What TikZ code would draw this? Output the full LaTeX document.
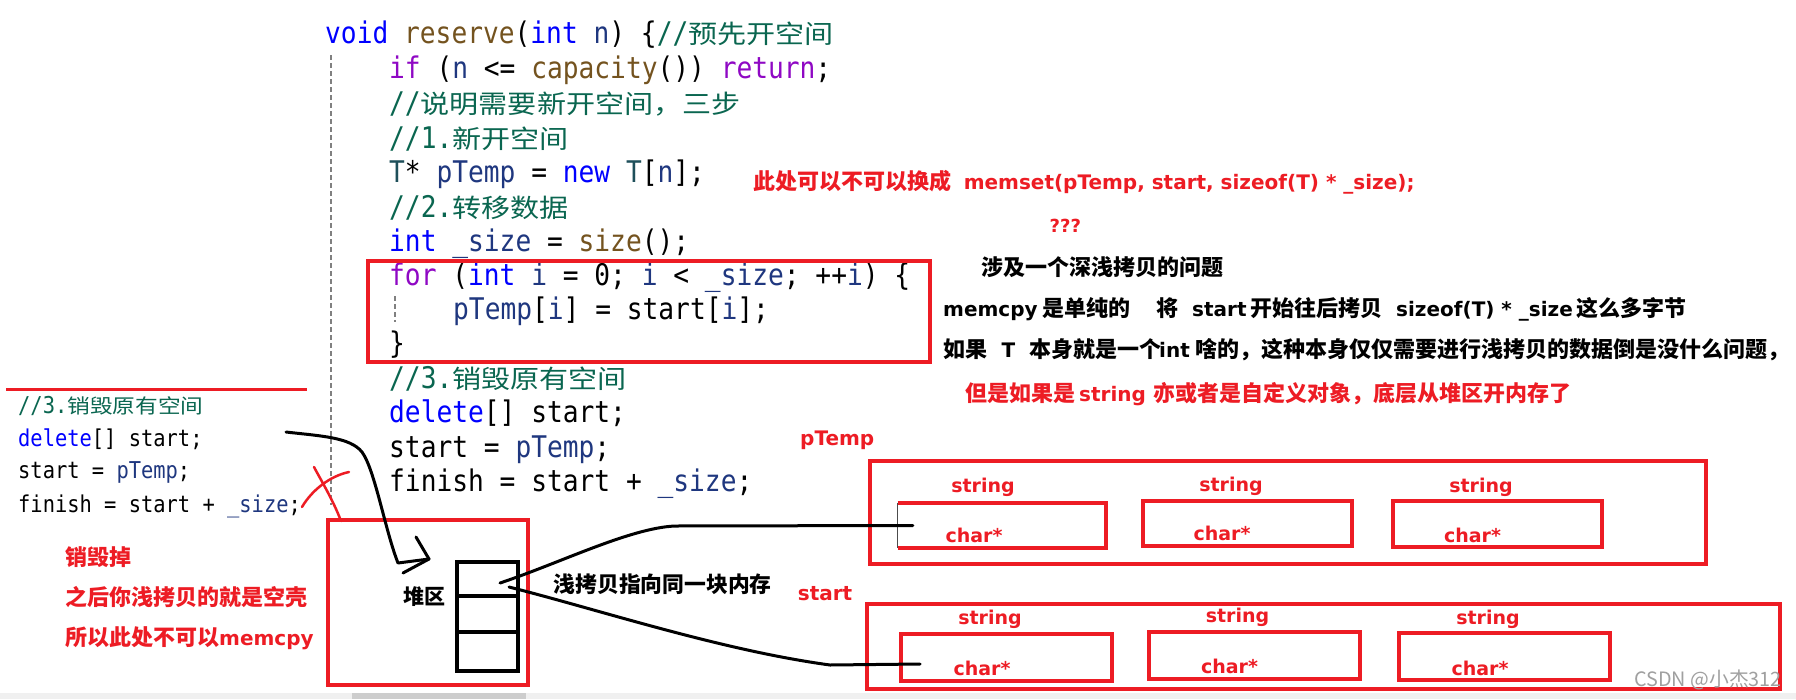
\documentclass[tikz,border=0pt]{standalone}
\usepackage{fontspec}
\usetikzlibrary{calc}
\setmainfont{DejaVu Sans}
\newfontfamily\fcode[FakeStretch=0.88]{DejaVu Sans Mono}
\newfontfamily\fcjk{Noto Sans CJK SC}
\newfontfamily\fcjkc[FakeStretch=1.14]{Noto Sans CJK SC}
\newfontfamily\fdv{DejaVu Sans}
\definecolor{rd}{HTML}{ED1C24}
\definecolor{kwc}{HTML}{0000FF}
\definecolor{ctc}{HTML}{8F08C4}
\definecolor{fnc}{HTML}{74531F}
\definecolor{cmc}{HTML}{0A6650}
\definecolor{vac}{HTML}{1F377F}
\definecolor{tyc}{HTML}{1E4F5A}
\definecolor{guidec}{HTML}{808080}
\definecolor{wmc}{HTML}{A0A0A0}
\definecolor{barl}{HTML}{F0F0F0}
\definecolor{bard}{HTML}{CDCDCD}
\newcommand\ckw[1]{\textcolor{kwc}{#1}}
\newcommand\cct[1]{\textcolor{ctc}{#1}}
\newcommand\cfn[1]{\textcolor{fnc}{#1}}
\newcommand\ccm[1]{\textcolor{cmc}{#1}}
\newcommand\cva[1]{\textcolor{vac}{#1}}
\newcommand\cty[1]{\textcolor{tyc}{#1}}
\newcommand\cjc[1]{{\fcjkc\fontsize{25.5}{30}\selectfont #1}}
\newcommand\cjs[1]{{\fcjkc\fontsize{19.9}{24}\selectfont #1}}
\newcommand\lat[1]{{\fdv\bfseries\fontsize{20}{24}\selectfont #1}}
\tikzset{
  code/.style={anchor=base west, inner sep=0, font=\fcode\fontsize{29.8}{34}\selectfont},
  codes/.style={anchor=base west, inner sep=0, font=\fcode\fontsize{23.2}{28}\selectfont},
  ann/.style={anchor=base west, inner sep=0, font=\fcjk\bfseries\fontsize{22}{26}\selectfont},
  lbl/.style={anchor=base, inner sep=0, font=\fdv\bfseries\fontsize{19}{22}\selectfont, text=rd},
  rbox/.style={draw=rd, line width=4, inner sep=0},
  cell/.style={draw=black, line width=4, inner sep=0, minimum width=61},
  hand/.style={draw=black, line width=3, line cap=round, line join=round},
  redpen/.style={draw=rd, line width=2.5, line cap=round},
  guide/.style={draw=guidec, line width=1.5, dash pattern=on 5 off 3},
}
\begin{document}
\begin{tikzpicture}[x=1pt,y=-1pt]
\useasboundingbox (0,0) rectangle (1796,699);
\fill[white] (0,0) rectangle (1796,699);
% scroll bar at the bottom
\fill[barl] (0,693) rectangle (1796,699);
\fill[bard] (352,693) rectangle (526,699);

% indentation guides
\draw[guide] (331,55) -- (331,505);
\draw[guide] (395,296) -- (395,322);

% main code
\node[code] (l1) at (325,43) {\ckw{void} \cfn{reserve}(\ckw{int} \cva{n}) \{\ccm{//\cjc{预先开空间}}};
\node[code] (l2) at (389,78) {\cct{if} (\cva{n} <= \cfn{capacity}()) \cct{return};};
\node[code] (l3) at (389,113) {\ccm{//\cjc{说明需要新开空间，三步}}};
\node[code] (l4) at (389,148) {\ccm{//1.\cjc{新开空间}}};
\node[code] (l5) at (389,182) {\cty{T}* \cva{pTemp} = \ckw{new} \cty{T}[\cva{n}];};
\node[code] (l6) at (389,217) {\ccm{//2.\cjc{转移数据}}};
\node[code] (l7) at (389,251) {\ckw{int} \cva{\_size} = \cfn{size}();};
\node[code] (l8) at (389,285) {\cct{for} (\ckw{int} \cva{i} = 0; \cva{i} < \cva{\_size}; ++\cva{i}) \{};
\node[code] (l9) at (453,319) {\cva{pTemp}[\cva{i}] = start[\cva{i}];};
\node[code] (l10) at (389,353) {\}};
\node[code] (l11) at (389,388) {\ccm{//3.\cjc{销毁原有空间}}};
\node[code] (l12) at (389,422) {\ckw{delete}[] start;};
\node[code] (l13) at (389,457) {start = \cva{pTemp};};
\node[code] (l14) at (389,491) {finish = start + \cva{\_size};};

% box round the for loop
\node[rbox, minimum width=562, minimum height=101] (forbox) at (649,311.5) {};

% left code snippet
\draw[rd, line width=3] (6,389) -- (307,389);
\node[codes] (s1) at (18,413) {\ccm{//3.\cjs{销毁原有空间}}};
\node[codes] (s2) at (18,446) {\ckw{delete}[] start;};
\node[codes] (s3) at (18,478) {start = \cva{pTemp};};
\node[codes] (s4) at (18,512) {finish = start + \cva{\_size};};

% red cross
\draw[redpen] (314,467) .. controls (322,482) and (333,500) .. (341,521);
\draw[redpen] (349,472) .. controls (330,476) and (312,490) .. (302,507);

% left red notes
\node[ann, text=rd] (r1) at (65,565) {销毁掉};
\node[ann, text=rd] (r2) at (65,605) {之后你浅拷贝的就是空壳};
\node[ann, text=rd] (r3) at (65,645) {所以此处不可以\lat{memcpy}};

% heap
\node[rbox, minimum width=200, minimum height=165] (heap) at (428,602.5) {};
\node[cell, minimum height=34] (c1) at (487.5,579) {};
\node[cell, minimum height=36] (c2) at (487.5,614) {};
\node[cell, minimum height=39] (c3) at (487.5,651.5) {};
\node[ann, font=\fcjk\bfseries\fontsize{21}{24}\selectfont] (heapl) at (403,604) {堆区};
\node[ann, font=\fcjk\bfseries\fontsize{21.8}{25}\selectfont] (shallow) at (553.5,592) {浅拷贝指向同一块内存};

% arrow from the snippet to the heap
\coordinate (a0) at (286,432);
\coordinate (a1) at (429,559);
\draw[hand] (a0) .. controls (320,436) and (350,437) .. (362,452) .. controls (375,470) and (385,530) .. (398,563) -- (a1);
\draw[hand] (416,537) -- (a1) -- (403,573);

% right notes
\node[ann, text=rd] (t1) at (753,189) {\makebox[210.6pt][l]{此处可以不可以换成}\lat{memset(pTemp, start, sizeof(T) * \_size);}};
\node[ann, text=rd] (t2) at (1049.5,232) {{\fdv\bfseries\fontsize{18}{20}\selectfont ???}};
\node[ann] (t3) at (981,275) {涉及一个深浅拷贝的问题};
\node[ann] (t4) at (943,316) {\makebox[99.6pt][l]{\lat{memcpy}}\makebox[113.2pt][l]{是单纯的}\makebox[36.2pt][l]{将}\makebox[58.5pt][l]{\lat{start}}\makebox[145.5pt][l]{开始往后拷贝}\makebox[180.5pt][l]{\lat{sizeof(T) * \_size}}这么多字节};
\node[ann] (t5) at (943,357) {\makebox[58.4pt][l]{如果}\makebox[27.5pt][l]{\lat{T}}\makebox[130.1pt][l]{本身就是一个}\makebox[36.6pt][l]{\lat{int}}啥的，这种本身仅仅需要进行浅拷贝的数据倒是没什么问题，};
\node[ann, text=rd] (t6) at (965,401) {\makebox[114pt][l]{但是如果是}\makebox[74pt][l]{\lat{string}}亦或者是自定义对象，底层从堆区开内存了};

% pTemp array
\node[lbl, anchor=base west, font=\fdv\bfseries\fontsize{20}{24}\selectfont] (ptl) at (800,445) {pTemp};
\node[rbox, minimum width=836, minimum height=103] (pbig) at (1288,512.5) {};
\node[inner sep=0, minimum width=208, minimum height=45] (p1) at (1002,525.5) {};
\draw[rd, line width=4] (p1.north west) -- (p1.north east) -- (p1.south east) -- (p1.south west);
\draw[black!70, line width=1] (p1.north west) -- (p1.south west);
\node[rbox, minimum width=209, minimum height=45] (p2) at (1247.5,523.5) {};
\node[rbox, minimum width=209, minimum height=46] (p3) at (1497.5,524) {};
\node[lbl] (ps1) at (983,492) {string};
\node[lbl] (ps2) at (1231,491) {string};
\node[lbl] (ps3) at (1481,492) {string};
\node[lbl] (pc1) at (974,542) {char*};
\node[lbl] (pc2) at (1222,540) {char*};
\node[lbl] (pc3) at (1472.5,542) {char*};

% start array
\node[lbl, anchor=base west, font=\fdv\bfseries\fontsize{20}{24}\selectfont] (stl) at (797.7,600) {start};
\node[rbox, minimum width=913, minimum height=85] (sbig) at (1323.5,646.5) {};
\node[rbox, minimum width=211, minimum height=47] (q1) at (1006.5,657.5) {};
\node[rbox, minimum width=211, minimum height=47] (q2) at (1254.5,655.5) {};
\node[rbox, minimum width=211, minimum height=47] (q3) at (1504.5,656.5) {};
\node[lbl] (qs1) at (990,624) {string};
\node[lbl] (qs2) at (1237.5,622.5) {string};
\node[lbl] (qs3) at (1488,624) {string};
\node[lbl] (qc1) at (982,675) {char*};
\node[lbl] (qc2) at (1229.5,673) {char*};
\node[lbl] (qc3) at (1480,675) {char*};

% shallow-copy pointers
\coordinate (u0) at ($(c1.east)+(-20,4)$);
\coordinate (u1) at ($(p1.west)+(15,0)$);
\coordinate (d0) at ($(c1.east)+(-11,8)$);
\coordinate (d1) at ($(q1.west)+(21,6.5)$);
\draw[hand] (u0) .. controls (560,563) and (630,528) .. (675,526) -- (u1);
\draw[hand] (d0) .. controls (600,610) and (720,650) .. (830,665) -- (d1);

% watermark
\node[anchor=base west, inner sep=0, font=\fcjk\fontsize{19.8}{24}\selectfont, text=wmc] (wm) at (1634,686) {CSDN @小杰312};
\end{tikzpicture}
\end{document}
